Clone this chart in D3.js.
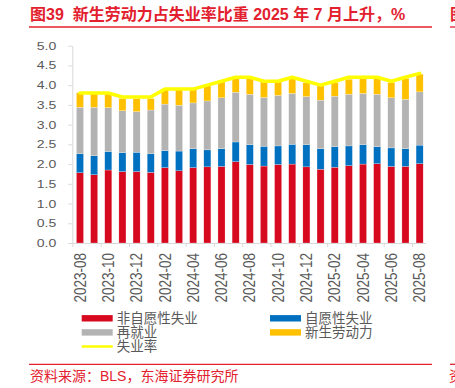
<!DOCTYPE html>
<html>
<head>
<meta charset="utf-8">
<script src="https://cdn.jsdelivr.net/npm/d3@7"></script>
<style>
  body { margin: 0; background: #fff; }
  svg { display: block; font-family: "Liberation Sans", Arial, "Noto Sans CJK SC", sans-serif; }
</style>
</head>
<body>
<div id="chart"></div>
<script>
// Months on the category axis
const months = [
  '2023-08', '2023-09', '2023-10', '2023-11', '2023-12', '2024-01', '2024-02',
  '2024-03', '2024-04', '2024-05', '2024-06', '2024-07', '2024-08', '2024-09',
  '2024-10', '2024-11', '2024-12', '2025-01', '2025-02', '2025-03', '2025-04',
  '2025-05', '2025-06', '2025-07', '2025-08'
];

// Stacked pieces, % of labour force
const involuntary = [1.78, 1.73, 1.85, 1.81, 1.81, 1.79, 1.91, 1.83, 1.91, 1.93, 1.94, 2.06, 1.99,
                     1.95, 1.99, 2.00, 1.93, 1.87, 1.92, 1.96, 2.00, 2.01, 1.94, 1.94, 2.01];
const voluntary   = [0.48, 0.48, 0.47, 0.48, 0.49, 0.47, 0.43, 0.50, 0.48, 0.43, 0.45, 0.50, 0.50,
                     0.50, 0.47, 0.50, 0.56, 0.52, 0.52, 0.50, 0.49, 0.43, 0.47, 0.45, 0.47];
const reentrants  = [1.18, 1.23, 1.11, 1.06, 1.03, 1.11, 1.18, 1.16, 1.16, 1.24, 1.29, 1.26, 1.28,
                     1.24, 1.28, 1.29, 1.22, 1.23, 1.28, 1.31, 1.30, 1.33, 1.27, 1.25, 1.35];
const newEntrants = [0.37, 0.36, 0.37, 0.31, 0.33, 0.29, 0.37, 0.40, 0.35, 0.40, 0.43, 0.38, 0.40,
                     0.39, 0.34, 0.37, 0.35, 0.36, 0.35, 0.38, 0.37, 0.39, 0.39, 0.53, 0.45];

// Headline unemployment rate
const rate = [3.8, 3.8, 3.8, 3.7, 3.7, 3.7, 3.9, 3.9, 3.9, 4.0, 4.1, 4.2, 4.2,
              4.1, 4.1, 4.2, 4.1, 4.0, 4.1, 4.2, 4.2, 4.2, 4.1, 4.2, 4.3];

const yTicks = [0, 0.5, 1, 1.5, 2, 2.5, 3, 3.5, 4, 4.5, 5];

const seriesNames = ['非自愿性失业', '自愿性失业', '再就业', '新生劳动力', '失业率'];

class UnemploymentChart {
  constructor (options) {
    this.w = options.w;
    this.h = options.h;
    this.titleRed = '#e3202e';
    this.colors = ['#d7091f', '#0070c0', '#b3b3b3', '#ffc000'];
    this.lineColor = '#ffff00';
    this.axisColor = '#d9d9d9';
    this.textColor = '#595959';
    this.table = months.map((m, i) => ({
      month: m,
      involuntary: involuntary[i],
      voluntary: voluntary[i],
      reentrants: reentrants[i],
      newEntrants: newEntrants[i],
      rate: rate[i]
    }));
  }

  render () {
    this.svg = d3.select('#chart')
      .append('svg')
      .attr('width', this.w)
      .attr('height', this.h);

    this.computeScaleFns();
    this.addFrame();
    this.addBars();
    this.addLine();
    this.addAxes();
    this.addLegend();
  }

  computeScaleFns () {
    this.x = d3.scaleBand()
      .domain(months)
      .range([72.9, 426.7])
      .paddingInner(0.5)
      .paddingOuter(0.25);

    this.y = d3.scaleLinear()
      .domain([0, 5])
      .range([243, 45.7]);
  }

  // Title, rules and source line
  addFrame () {
    this.svg.append('text')
      .attr('x', 30)
      .attr('y', 19.5)
      .attr('fill', this.titleRed)
      .style('font-size', '16px')
      .style('font-weight', 'bold')
      .style('white-space', 'pre')
      .text('图39  新生劳动力占失业率比重 2025 年 7 月上升，%');

    this.svg.append('text')
      .attr('x', 450)
      .attr('y', 19.5)
      .attr('fill', this.titleRed)
      .style('font-size', '16px')
      .style('font-weight', 'bold')
      .text('图');

    [[29, 432, 27], [450, 455, 27], [29, 432, 364.3], [450, 455, 364.3]].forEach((l) => {
      this.svg.append('line')
        .attr('x1', l[0]).attr('x2', l[1])
        .attr('y1', l[2]).attr('y2', l[2])
        .attr('stroke', this.titleRed)
        .attr('stroke-width', 1.3);
    });

    this.svg.append('text')
      .attr('x', 30)
      .attr('y', 381)
      .attr('fill', this.titleRed)
      .style('font-size', '14px')
      .text('资料来源：BLS，东海证券研究所');

    this.svg.append('text')
      .attr('x', 449)
      .attr('y', 381)
      .attr('fill', this.titleRed)
      .style('font-size', '14px')
      .text('资');
  }

  addBars () {
    let keys = ['involuntary', 'voluntary', 'reentrants', 'newEntrants'];
    let stacked = d3.stack().keys(keys)(this.table);

    this.svg.append('g')
      .selectAll('g')
      .data(stacked)
      .join('g')
      .attr('fill', (d, i) => this.colors[i])
      .selectAll('rect')
      .data((d) => d)
      .join('rect')
      .attr('x', (d) => this.x(d.data.month))
      .attr('y', (d) => this.y(d[1]))
      .attr('width', this.x.bandwidth())
      .attr('height', (d) => this.y(d[0]) - this.y(d[1]))
      .attr('stroke', '#fff')
      .attr('stroke-width', 0.4)
      .attr('stroke-opacity', 0.6);
  }

  addLine () {
    let lineFn = d3.line()
      .x((d) => this.x(d.month) + this.x.bandwidth() / 2)
      .y((d) => this.y(d.rate));

    this.svg.append('path')
      .attr('d', lineFn(this.table))
      .attr('fill', 'none')
      .attr('stroke', this.lineColor)
      .attr('stroke-width', 3.5)
      .attr('stroke-linejoin', 'round')
      .attr('stroke-linecap', 'round');
  }

  addAxes () {
    let yAxis = this.svg.append('g')
      .attr('transform', 'translate(72.3,0)')
      .call(d3.axisLeft(this.y)
        .tickValues(yTicks)
        .tickFormat(d3.format('.1f'))
        .tickSize(4)
        .tickSizeOuter(0)
        .tickPadding(12));

    yAxis.selectAll('path, line').attr('stroke', this.axisColor);
    yAxis.selectAll('text')
      .attr('fill', this.textColor)
      .attr('textLength', 19.5)
      .attr('lengthAdjust', 'spacingAndGlyphs')
      .style('font-size', '11px');

    // Every other month is labelled, ticks sit on the band edges
    let step = this.x.step();
    let xAxis = this.svg.append('g')
      .attr('transform', 'translate(0,243)')
      .call(d3.axisBottom(this.x)
        .tickValues(months.filter((m, i) => i % 2 === 0))
        .tickSize(4)
        .tickSizeOuter(0));

    xAxis.select('.domain')
      .attr('d', 'M72.3,0.5H426')
      .attr('stroke', this.axisColor);

    xAxis.selectAll('.tick line')
      .attr('x1', -step / 2)
      .attr('x2', -step / 2)
      .attr('stroke', this.axisColor);

    xAxis.selectAll('.tick text')
      .attr('transform', 'scale(1.2,1) rotate(-90)')
      .attr('x', -10)
      .attr('y', 0)
      .attr('dy', '0.35em')
      .attr('fill', this.textColor)
      .style('text-anchor', 'end')
      .style('font-size', '13.5px');
  }

  addLegend () {
    let items = [
      { x: 81.7, y: 318.3, type: 'rect', color: this.colors[0], name: seriesNames[0] },
      { x: 270, y: 318.3, type: 'rect', color: this.colors[1], name: seriesNames[1] },
      { x: 81.7, y: 332.4, type: 'rect', color: this.colors[2], name: seriesNames[2] },
      { x: 270, y: 332.4, type: 'rect', color: this.colors[3], name: seriesNames[3] },
      { x: 81.7, y: 346.5, type: 'line', color: this.lineColor, name: seriesNames[4] }
    ];

    let legend = this.svg.append('g');

    items.forEach((d) => {
      if (d.type === 'rect') {
        legend.append('rect')
          .attr('x', d.x)
          .attr('y', d.y - 3.2)
          .attr('width', 31)
          .attr('height', 6.4)
          .attr('fill', d.color);
      } else {
        legend.append('line')
          .attr('x1', d.x).attr('x2', d.x + 31)
          .attr('y1', d.y).attr('y2', d.y)
          .attr('stroke', d.color)
          .attr('stroke-width', 2.5);
      }

      legend.append('text')
        .attr('x', d.x + 35)
        .attr('y', d.y)
        .attr('dy', '0.36em')
        .attr('fill', this.textColor)
        .style('font-size', '13.5px')
        .text(d.name);
    });
  }
}

new UnemploymentChart({ w: 455, h: 388 }).render();
</script>
</body>
</html>
